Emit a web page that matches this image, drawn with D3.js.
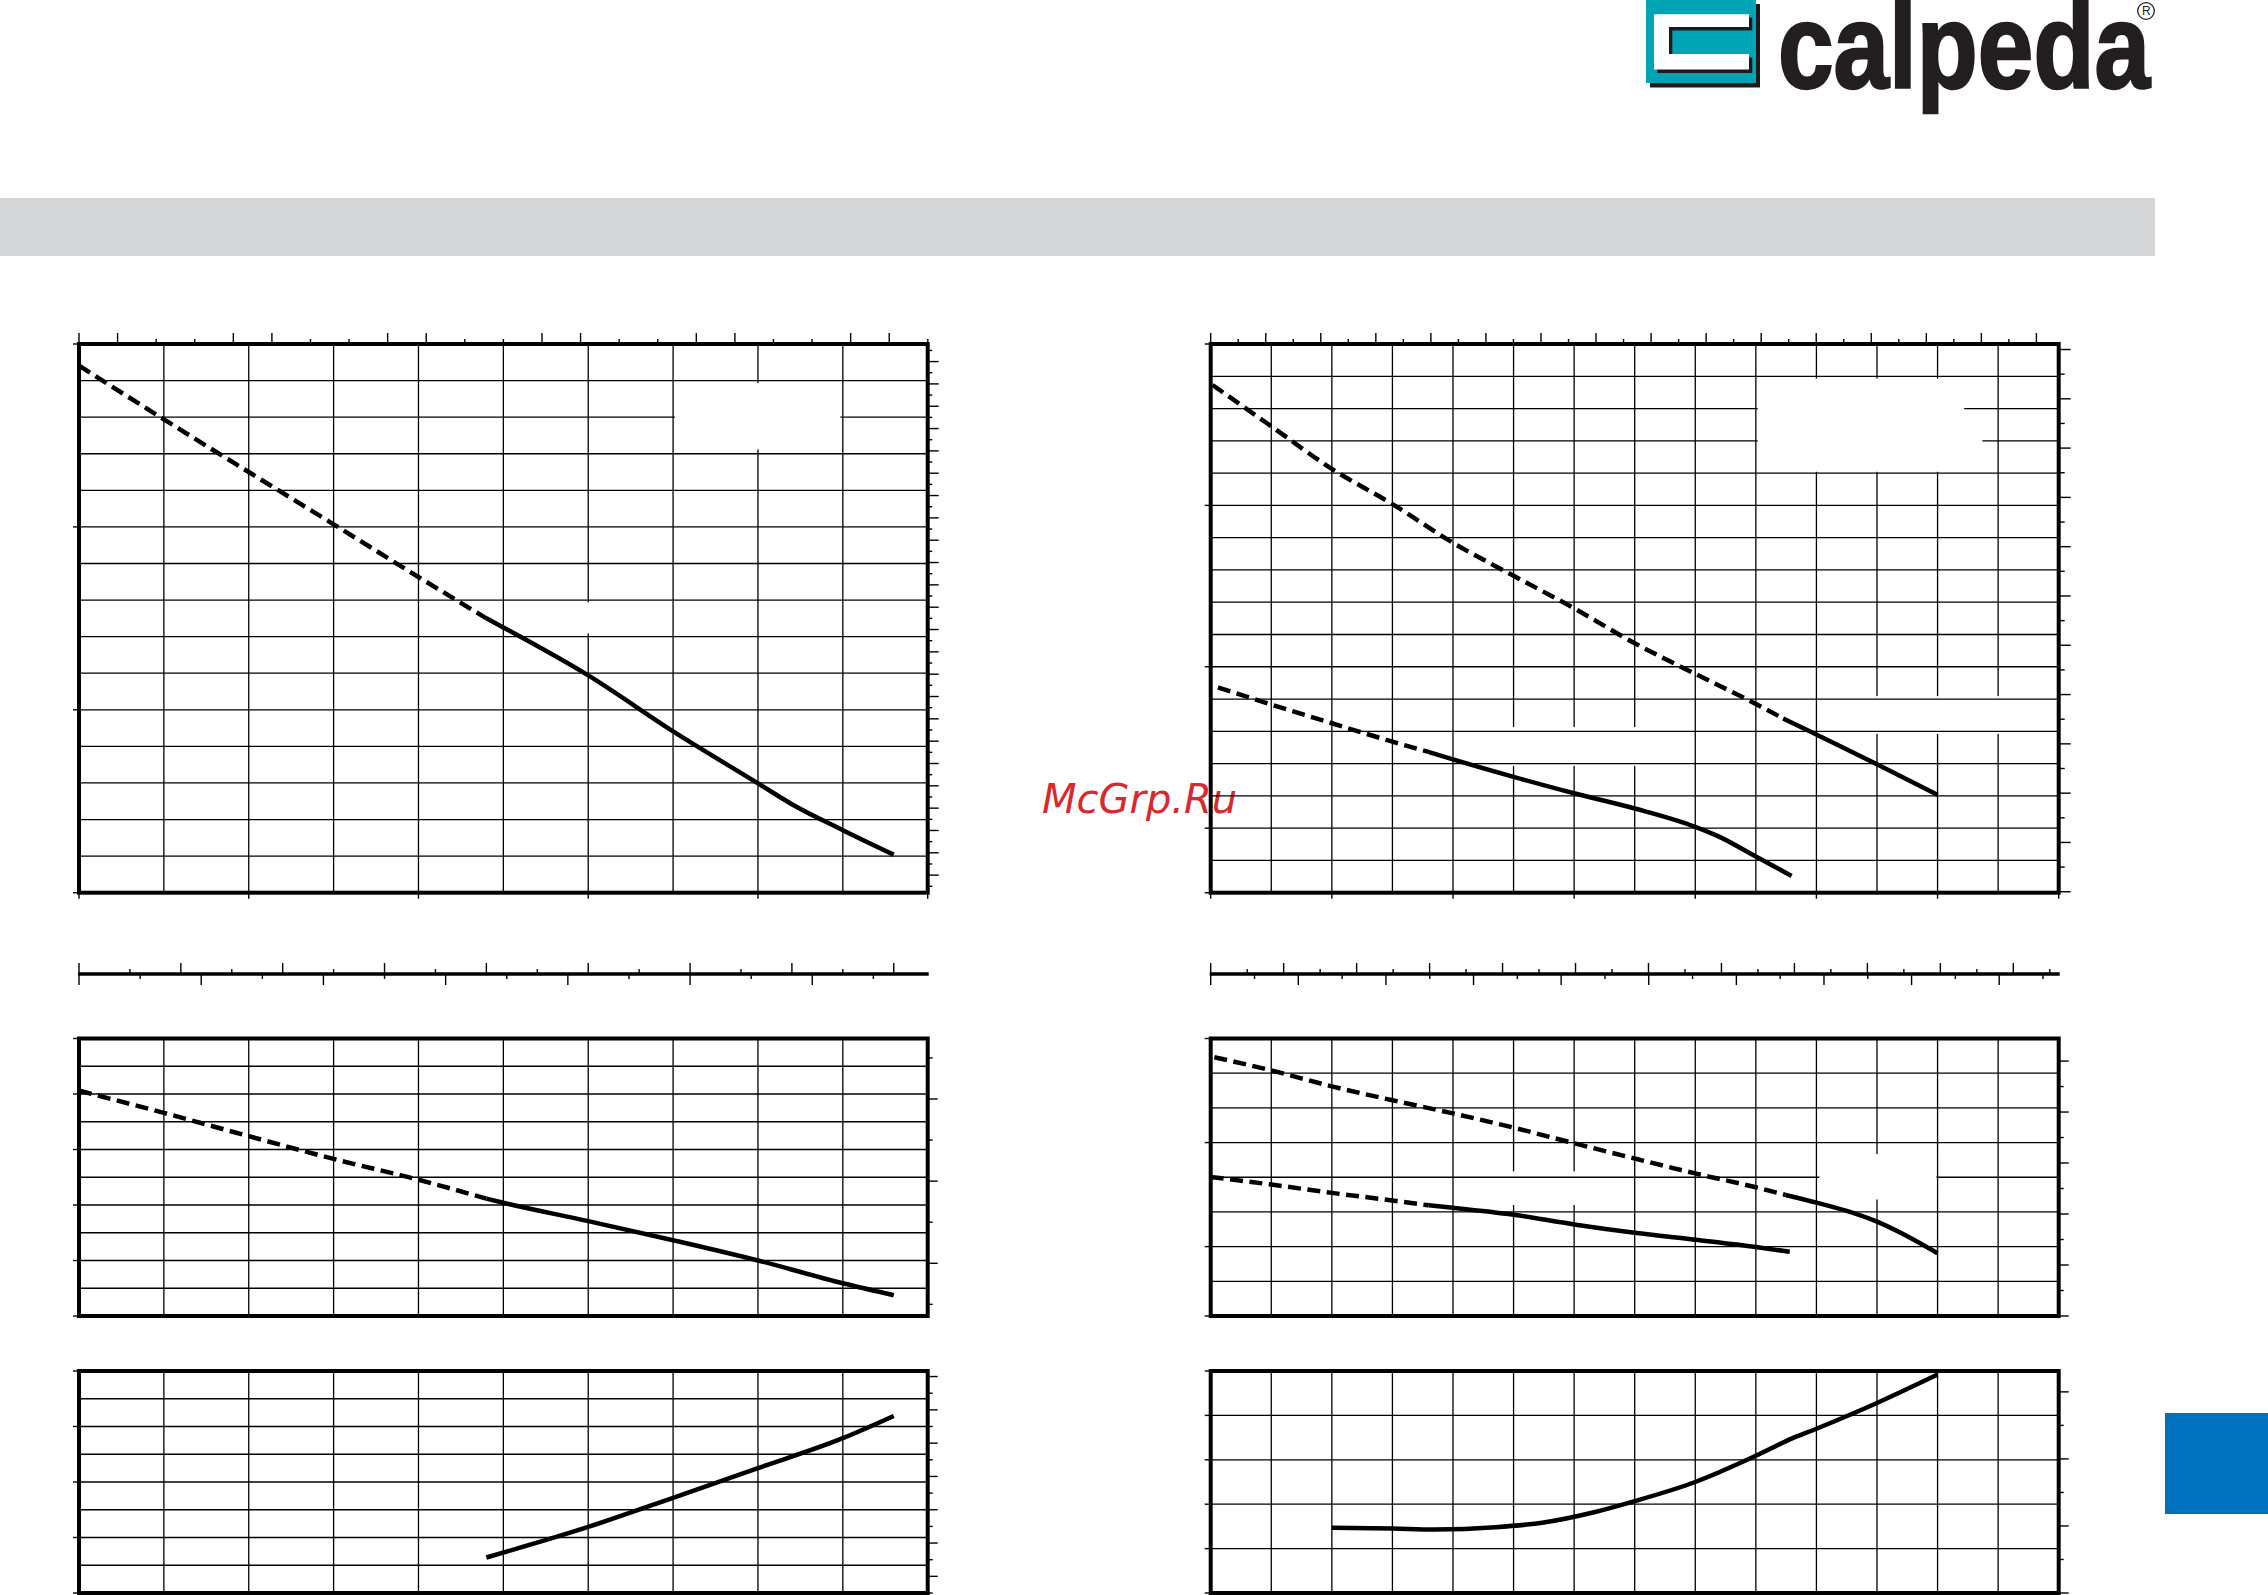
<!DOCTYPE html>
<html>
<head>
<meta charset="utf-8">
<script src="https://cdn.jsdelivr.net/npm/d3@7"></script>
<style>html,body{margin:0;padding:0;background:#fff;}svg{display:block;}</style>
</head>
<body>
<script>
// ================= DATA (x = grid column from left, y = grid row from bottom) =================
// Left sheet – main chart (10 columns x 15 rows)
const tlMainDashed = [[0,14.41],[1,12.94],[2,11.5],[3,10.07],[4,8.63],[4.8,7.5]];
const tlMainSolid  = [[4.8,7.5],[5,7.25],[6,5.94],[7,4.41],[8,2.99],[8.4,2.42],[9,1.71],[9.6,1.04]];
// Left sheet – second panel (10 x 10)
const tlMidDashed  = [[0,8.12],[1,7.32],[2,6.48],[3,5.66],[4,4.91],[4.8,4.23]];
const tlMidSolid   = [[4.8,4.23],[5,4.08],[6,3.42],[7,2.73],[8,2.0],[9,1.18],[9.6,0.75]];
// Left sheet – third panel (10 x 8)
const tlLowSolid   = [[4.8,1.28],[6,2.38],[7,3.43],[8,4.5],[9,5.58],[9.6,6.38]];

// Right sheet – main chart (14 columns x 17 rows)
const trMainUpperDashed = [[0.03,15.73],[1,14.45],[2,13.13],[3,12.04],[4,10.84],[5,9.82],[6,8.81],[7,7.73],[8,6.78],[9,5.85],[9.45,5.4]];
const trMainUpperSolid  = [[9.45,5.4],[10,4.9],[11,3.98],[12,3.03]];
const trMainLowerDashed = [[0.12,6.36],[1,5.83],[2,5.25],[3,4.68],[3.6,4.36]];
const trMainLowerSolid  = [[3.6,4.36],[4,4.13],[5,3.59],[6,3.08],[7,2.61],[8,2.04],[8.4,1.73],[9,1.12],[9.59,0.52]];
// Right sheet – second panel (14 x 8)
const trMidUpperDashed = [[0.06,7.46],[1,7.08],[2,6.62],[3,6.22],[4,5.84],[5,5.43],[6,4.98],[7,4.54],[8,4.11],[9,3.71],[9.49,3.49]];
const trMidUpperSolid  = [[9.49,3.49],[10,3.27],[10.5,3.03],[11,2.72],[11.5,2.3],[12,1.81]];
const trMidLowerDashed = [[0,4.01],[1,3.79],[2,3.55],[3,3.33],[3.6,3.19]];
const trMidLowerSolid  = [[3.6,3.19],[4,3.12],[5,2.92],[6,2.64],[7,2.4],[8,2.2],[9,1.99],[9.56,1.85]];
// Right sheet – third panel (14 x 5)
const trLowSolid = [[2,1.47],[3,1.45],[3.7,1.43],[4.7,1.48],[5.5,1.59],[6.33,1.82],[7,2.07],[8,2.5],[9,3.09],[9.58,3.47],[10,3.7],[11,4.28],[12,4.92]];

// Tick values (grid units)
const tlMainLeftTicks = [0,5,10,15];
const trMainLeftTicks = [0,2,7,12,17];
const tlMidLeftTicks  = [0,2,4,6,8,10];
const tlLowLeftTicks  = [0,2,4,6,8];
const trMidLeftTicks  = [0,2,5,8];
const trLowLeftTicks  = [0,1,2,3,4,5];
const tlMainBottomTicks = [0,2,4,6,8,10];
const trMainBottomTicks = [0,2,4,6,8,10,12,14];

// ================= DRAWING =================
const W = 2268, H = 1595;
const svg = d3.select('body').append('svg').attr('width', W).attr('height', H);
svg.append('rect').attr('width', W).attr('height', H).attr('fill', '#fff');

// header band
svg.append('rect').attr('x', 0).attr('y', 198).attr('width', 2155).attr('height', 58).attr('fill', '#d5d6d8');
// blue tab
svg.append('rect').attr('x', 2165).attr('y', 1413).attr('width', 103).attr('height', 101).attr('fill', '#0071bc');

// logo
const logo = svg.append('g');
logo.append('rect').attr('x', 1650).attr('y', 4).attr('width', 110).attr('height', 83.5).attr('fill', '#1c1a1b');
logo.append('rect').attr('x', 1646).attr('y', 0).attr('width', 110).attr('height', 83).attr('fill', '#00a4b5');
const cPath = (dx, dy) => `M${1654+dx},${14.2+dy}H${1749+dx}V${27+dy}H${1669+dx}V${54+dy}H${1749+dx}V${69.5+dy}H${1654+dx}Z`;
logo.append('path').attr('d', cPath(3.3, 3.4)).attr('fill', '#1c1a1b');
logo.append('path').attr('d', cPath(0, 0)).attr('fill', '#fff');
logo.append('text').attr('x', 1778).attr('y', 87.5)
  .attr('font-family', '"Liberation Sans", Arial, sans-serif').attr('font-weight', 700)
  .attr('font-size', 120).attr('textLength', 372).attr('lengthAdjust', 'spacingAndGlyphs')
  .attr('fill', '#231f20').attr('stroke', '#231f20').attr('stroke-width', 2.5)
  .text('calpeda');
// registered mark: ring + letter
logo.append('circle').attr('cx', 2146).attr('cy', 11).attr('r', 8.3)
  .attr('fill', 'none').attr('stroke', '#231f20').attr('stroke-width', 1.3);
logo.append('text').attr('x', 2146.3).attr('y', 15.2).attr('text-anchor', 'middle')
  .attr('font-family', '"Liberation Sans", Arial, sans-serif').attr('font-size', 12)
  .attr('fill', '#231f20').text('R');

// watermark (under the charts)
svg.append('text').attr('x', 1042).attr('y', 813)
  .attr('font-family', '"DejaVu Sans", sans-serif').attr('font-style', 'italic')
  .attr('font-size', 40).attr('fill', '#d52a2e').text('McGrp.Ru');

function drawPanel(c) {
  const g = svg.append('g');
  const x = d3.scaleLinear().domain([0, c.cols]).range([c.x0, c.x1]);
  const y = d3.scaleLinear().domain([0, c.rows]).range([c.y1, c.y0]);
  const rectFrom = m => g.append('rect').attr('x', x(m[0])).attr('y', y(m[3]))
      .attr('width', x(m[1]) - x(m[0])).attr('height', y(m[2]) - y(m[3])).attr('fill', '#fff');

  g.append('g').selectAll('line').data(d3.range(1, c.cols)).join('line')
    .attr('x1', d => x(d)).attr('x2', d => x(d)).attr('y1', c.y0).attr('y2', c.y1)
    .attr('stroke', '#000').attr('stroke-width', 1.3);
  (c.maskA || []).forEach(rectFrom);
  g.append('g').selectAll('line').data(d3.range(1, c.rows)).join('line')
    .attr('y1', d => y(d)).attr('y2', d => y(d)).attr('x1', c.x0).attr('x2', c.x1)
    .attr('stroke', '#000').attr('stroke-width', 1.3);
  (c.maskB || []).forEach(rectFrom);

  const line = d3.line().x(d => x(d[0])).y(d => y(d[1])).curve(d3.curveMonotoneX);
  (c.dashed || []).forEach(s => g.append('path').attr('d', line(s)).attr('fill', 'none')
      .attr('stroke', '#000').attr('stroke-width', 4.5).attr('stroke-dasharray', '13,6.5'));
  (c.solid || []).forEach(s => g.append('path').attr('d', line(s)).attr('fill', 'none')
      .attr('stroke', '#000').attr('stroke-width', 4.5).attr('stroke-linejoin', 'round'));

  // frame
  g.append('rect').attr('x', c.x0).attr('y', c.y0).attr('width', c.x1 - c.x0).attr('height', c.y1 - c.y0)
    .attr('fill', 'none').attr('stroke', '#000').attr('stroke-width', 4);

  const tk = g.append('g').attr('stroke', '#000').attr('stroke-width', 1.4);
  (c.left || []).forEach(v => tk.append('line').attr('x1', c.x0 - 6).attr('x2', c.x0).attr('y1', y(v)).attr('y2', y(v)));
  (c.bottom || []).forEach(v => tk.append('line').attr('x1', x(v)).attr('x2', x(v)).attr('y1', c.y1).attr('y2', c.y1 + 6));
  if (c.top) {
    d3.range(c.top.n).forEach(k => {
      const px = x(k * c.top.step), L = c.top.isLong(k) ? 11 : 5;
      tk.append('line').attr('x1', px).attr('x2', px).attr('y1', c.y0 - L).attr('y2', c.y0);
    });
  }
  if (c.right) {
    d3.range(c.right.n).forEach(k => {
      const py = y(c.right.start + k * c.right.step), L = c.right.isLong(k) ? c.right.long : c.right.short;
      tk.append('line').attr('x1', c.x1).attr('x2', c.x1 + L).attr('y1', py).attr('y2', py);
    });
  }
}

function drawScaleBar(c) {
  const g = svg.append('g');
  const x = d3.scaleLinear().domain([0, c.cols]).range([c.x0, c.x1]);
  g.append('line').attr('x1', c.x0 - 1).attr('x2', c.x1 + 1).attr('y1', c.y).attr('y2', c.y)
    .attr('stroke', '#000').attr('stroke-width', 3.5);
  d3.range(c.up.n).forEach(k => {
    const px = x(k * c.up.step), L = k % 2 === 0 ? 11 : 5;
    g.append('line').attr('x1', px).attr('x2', px).attr('y1', c.y - L).attr('y2', c.y).attr('stroke', '#000').attr('stroke-width', 1.4);
  });
  d3.range(c.down.n).forEach(k => {
    const px = x(k * c.down.step), L = k % 2 === 0 ? 11 : 5;
    g.append('line').attr('x1', px).attr('x2', px).attr('y1', c.y).attr('y2', c.y + L).attr('stroke', '#000').attr('stroke-width', 1.4);
  });
}

const LX0 = 79, LX1 = 927.7, RX0 = 1210.7, RX1 = 2058.7;

// ---- left sheet ----
drawPanel({
  x0: LX0, x1: LX1, y0: 344, y1: 892.7, cols: 10, rows: 15,
  maskA: [[5.9, 6.1, 7.09, 7.94]],
  maskB: [[7.02, 8.97, 12.12, 13.93]],
  dashed: [tlMainDashed], solid: [tlMainSolid],
  left: tlMainLeftTicks, bottom: tlMainBottomTicks,
  top: { step: 0.4546, n: 23, isLong: k => Math.floor(k / 2) % 2 === 0 },
  right: { start: 0.175, step: 0.3052, n: 49, isLong: k => k % 2 === 1, long: 11, short: 4.5 }
});
drawScaleBar({ x0: LX0, x1: LX1, cols: 10, y: 974, up: { step: 0.6, n: 17 }, down: { step: 0.72, n: 14 } });
drawPanel({
  x0: LX0, x1: LX1, y0: 1038.5, y1: 1316, cols: 10, rows: 10,
  dashed: [tlMidDashed], solid: [tlMidSolid],
  left: tlMidLeftTicks,
  right: { start: 0.42, step: 1.48, n: 7, isLong: k => k % 2 === 1, long: 10, short: 5 }
});
drawPanel({
  x0: LX0, x1: LX1, y0: 1371, y1: 1593, cols: 10, rows: 8,
  solid: [tlLowSolid],
  left: tlLowLeftTicks,
  right: { start: 0, step: 0.6, n: 14, isLong: k => k % 2 === 1, long: 10, short: 5 }
});

// ---- right sheet ----
drawPanel({
  x0: RX0, x1: RX1, y0: 344, y1: 892.7, cols: 14, rows: 17,
  maskA: [[4.6, 7.4, 3.93, 5.13], [10.6, 13.4, 4.92, 6.09]],
  maskB: [[9.03, 12.44, 13.04, 15.93], [12.43, 12.74, 13.04, 14.95]],
  dashed: [trMainUpperDashed, trMainLowerDashed], solid: [trMainUpperSolid, trMainLowerSolid],
  left: trMainLeftTicks, bottom: trMainBottomTicks,
  top: { step: 0.4544, n: 31, isLong: k => k % 2 === 0 },
  right: { start: 0.03, step: 0.7636, n: 23, isLong: k => k % 2 === 0, long: 12, short: 6 }
});
drawScaleBar({ x0: RX0, x1: RX1, cols: 14, y: 974, up: { step: 0.6023, n: 24 }, down: { step: 0.7232, n: 20 } });
drawPanel({
  x0: RX0, x1: RX1, y0: 1038.5, y1: 1316, cols: 14, rows: 8,
  maskA: [[4.6, 6.4, 3.2, 4.17]],
  maskB: [[10.05, 11.98, 3.36, 4.67]],
  dashed: [trMidUpperDashed, trMidLowerDashed], solid: [trMidUpperSolid, trMidLowerSolid],
  left: trMidLeftTicks,
  right: { start: 0, step: 0.735, n: 11, isLong: k => k % 2 === 0, long: 10, short: 5 }
});
drawPanel({
  x0: RX0, x1: RX1, y0: 1371, y1: 1593, cols: 14, rows: 5,
  solid: [trLowSolid],
  left: trLowLeftTicks,
  right: { start: 0, step: 0.755, n: 7, isLong: k => k % 2 === 0, long: 10, short: 5 }
});
</script>
</body>
</html>
